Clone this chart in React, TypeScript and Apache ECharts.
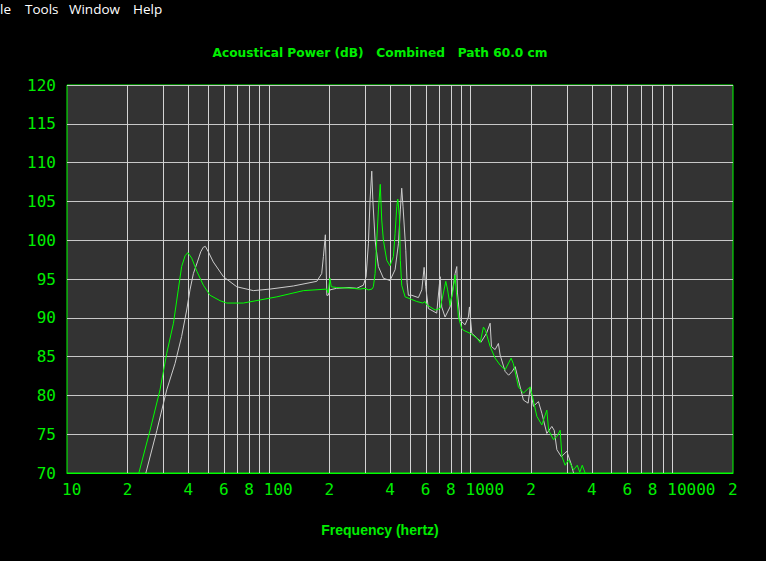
import React, { useEffect, useRef } from "react";
import * as echarts from "echarts";

const titleText = "Acoustical Power (dB)   Combined   Path 60.0 cm";
const xAxisName = "Frequency (hertz)";
const menuItems = ["le", "Tools", "Window", "Help"];
const menuX = [0, 25, 69, 133];

const gridFreqs = [20, 30, 40, 50, 60, 70, 80, 90, 100, 200, 300, 400, 500, 600, 700, 800, 900, 1000, 2000, 3000, 4000, 5000, 6000, 7000, 8000, 9000, 10000];
const labelFreqs = [10, 20, 40, 60, 80, 100, 200, 400, 600, 800, 1000, 2000, 4000, 6000, 8000, 10000, 20000];
const labelTexts = ["10", "2", "4", "6", "8", "100", "2", "4", "6", "8", "1000", "2", "4", "6", "8", "10000", "2"];

// Green trace: [frequency Hz, dB]
const greenSeries = [
  [22.7, 70], [25.8, 75.5], [28.9, 80.7], [31.2, 85.4], [33.7, 89.3], [35.6, 93.6], [37.0, 96.6], [38.5, 98.0],
  [39.7, 98.4], [41.5, 97.7], [44.0, 96.0], [47.4, 94.2], [51.2, 92.9], [57.4, 92.2], [61.9, 91.9], [74.8, 91.9],
  [90.6, 92.3], [109.6, 92.7], [148.5, 93.5], [193.9, 93.7], [197, 93.2], [201, 95.1], [204, 94.0], [217, 93.9],
  [260, 93.8], [283, 93.7], [300, 93.8], [312, 93.6], [325, 93.7], [330, 94.0], [336.6, 95.7], [343, 100.0],
  [349.5, 103.9], [357, 107.2], [363, 102.6], [370, 100.0], [384.6, 97.4], [399, 96.7], [414.8, 97.9], [422.8, 100.9],
  [431, 104.3], [436, 105.3], [444, 103.2], [449, 97.4], [456, 94.2], [474, 92.7], [541.7, 92.1], [580, 91.9],
  [595.6, 92.1], [605, 91.7], [667.6, 91.0], [707, 91.2], [734, 93.2], [754, 94.7], [770, 93.6], [792, 91.6],
  [815, 93.2], [838, 95.5], [852, 93.2], [871, 90.1], [905, 88.6], [922, 88.4], [995, 88.0], [1075, 87.4],
  [1116, 86.8], [1159, 88.8], [1185, 88.4], [1251, 86.3], [1324, 84.8], [1402, 83.9], [1484, 83.3], [1589, 84.8],
  [1630, 84.1], [1728, 81.1], [1829, 80.3], [1975, 81.1], [2030, 79.8], [2132, 77.3], [2257, 76.2], [2389, 78.1],
  [2440, 75.5], [2578, 74.3], [2680, 74.7], [2782, 75.5], [2840, 72.1], [2945, 71.0], [3060, 71.7], [3240, 70.4],
  [3380, 71.0], [3480, 70.1], [3580, 71.0], [3700, 70]
];

// White trace: [frequency Hz, dB]
const whiteSeries = [
  [24.6, 70], [27.9, 75.5], [31.2, 80.7], [34.3, 84.1], [37.0, 87.6], [39.2, 91.0], [40.7, 93.6], [42.3, 95.7],
  [44.3, 97.2], [46, 98.5], [47.4, 99.1], [48.5, 99.2], [50.2, 98.5], [53.1, 97.2], [59.6, 95.3], [69.4, 94.0],
  [83.9, 93.5], [101.5, 93.7], [132.4, 94.1], [173, 94.7], [183, 95.7], [186.6, 97.9], [190.8, 100.7], [194, 92.9],
  [197, 92.9], [201, 93.6], [217, 93.8], [250, 93.9], [273, 93.8], [294.4, 94.2], [303.7, 95.3], [311.9, 99.6],
  [317.8, 105.2], [324, 108.9], [328, 105.2], [336.6, 100.0], [349.5, 96.6], [370, 95.1], [399, 94.8], [422.8, 96.2],
  [439.5, 99.6], [449, 103.9], [456, 106.7], [463, 104.3], [477.8, 98.7], [485, 94.5], [492, 92.9], [511, 92.9],
  [551.6, 92.6], [573.6, 93.6], [589, 96.5], [600, 94.0], [618, 91.2], [680, 90.6], [707, 95.3], [720, 91.4],
  [748, 90.1], [792, 91.4], [839, 95.7], [855, 96.6], [862, 93.2], [888, 89.7], [940, 89.1], [976, 90.1],
  [988, 91.4], [1015, 88.0], [1075, 87.4], [1130, 86.9], [1200, 88.0], [1251, 89.3], [1270, 86.3], [1324, 85.9],
  [1375, 86.7], [1402, 85.2], [1484, 83.1], [1545, 82.6], [1610, 83.1], [1665, 83.7], [1728, 82.0], [1829, 79.4],
  [1930, 79.0], [1975, 80.9], [2050, 78.6], [2171, 79.2], [2257, 77.7], [2389, 75.1], [2530, 76.0], [2600, 75.5],
  [2680, 73.0], [2820, 72.1], [3002, 72.8], [3150, 71.2], [3240, 70]
];

const GREEN = "#00ff00";
const TEXT_GREEN = "#00ee00";

export default function App() {
  const ref = useRef<HTMLDivElement>(null);
  useEffect(() => {
    if (!ref.current) return;
    const chart = echarts.init(ref.current, null, { renderer: "svg" });
    const labelMap: Record<string, string> = {};
    labelFreqs.forEach((f, i) => (labelMap[String(f)] = labelTexts[i]));
    chart.setOption({
      animation: false,
      backgroundColor: "#000000",
      graphic: [
        ...menuItems.map((t, i) => ({
          type: "text",
          x: menuX[i],
          y: 9,
          style: {
            text: t,
            fill: "#ffffff",
            font: "13.5px 'Open Sans'",
            textVerticalAlign: "middle",
          },
        })),
        {
          type: "text",
          x: 380,
          y: 52.5,
          style: {
            text: titleText,
            fill: TEXT_GREEN,
            font: "bold 12.2px 'DejaVu Sans'",
            textAlign: "center",
            textVerticalAlign: "middle",
          },
        },
        {
          type: "text",
          x: 380,
          y: 530,
          style: {
            text: xAxisName,
            fill: TEXT_GREEN,
            font: "bold 14px 'Liberation Sans'",
            textAlign: "center",
            textVerticalAlign: "middle",
          },
        },
      ],
      grid: {
        left: 67,
        top: 85,
        width: 666,
        height: 388,
        show: true,
        backgroundColor: "#333333",
        borderColor: GREEN,
        borderWidth: 1,
      },
      xAxis: {
        type: "log",
        logBase: 10,
        min: 10,
        max: 20000,
        axisLine: { show: true, lineStyle: { color: GREEN, width: 1 } },
        splitLine: { show: false },
        minorSplitLine: { show: false },
        axisTick: {
          show: true,
          inside: true,
          length: 388,
          customValues: gridFreqs,
          lineStyle: { color: "#d4d4d4", width: 1 },
        },
        axisLabel: {
          show: true,
          customValues: labelFreqs,
          align: "left",
          padding: [0, 0, 0, -5],
          margin: 8,
          color: TEXT_GREEN,
          fontFamily: "DejaVu Sans Mono",
          fontSize: 16,
          formatter: (v: number) => labelMap[String(Math.round(v))] ?? "",
        },
      },
      yAxis: {
        type: "value",
        min: 70,
        max: 120,
        interval: 5,
        axisLine: { show: false },
        axisTick: { show: false },
        splitLine: { show: true, lineStyle: { color: "#c8c8c8", width: 1 } },
        axisLabel: {
          color: TEXT_GREEN,
          fontFamily: "DejaVu Sans Mono",
          fontSize: 16,
          margin: 11,
        },
      },
      series: [
        {
          type: "line",
          data: whiteSeries,
          showSymbol: false,
          lineStyle: { color: "#cccccc", width: 1 },
          z: 3,
        },
        {
          type: "line",
          data: greenSeries,
          showSymbol: false,
          lineStyle: { color: GREEN, width: 1 },
          z: 4,
        },
      ],
    });
    return () => chart.dispose();
  }, []);
  return (
    <div
      ref={ref}
      style={{ position: "fixed", left: 0, top: 0, width: 766, height: 561 }}
    />
  );
}
